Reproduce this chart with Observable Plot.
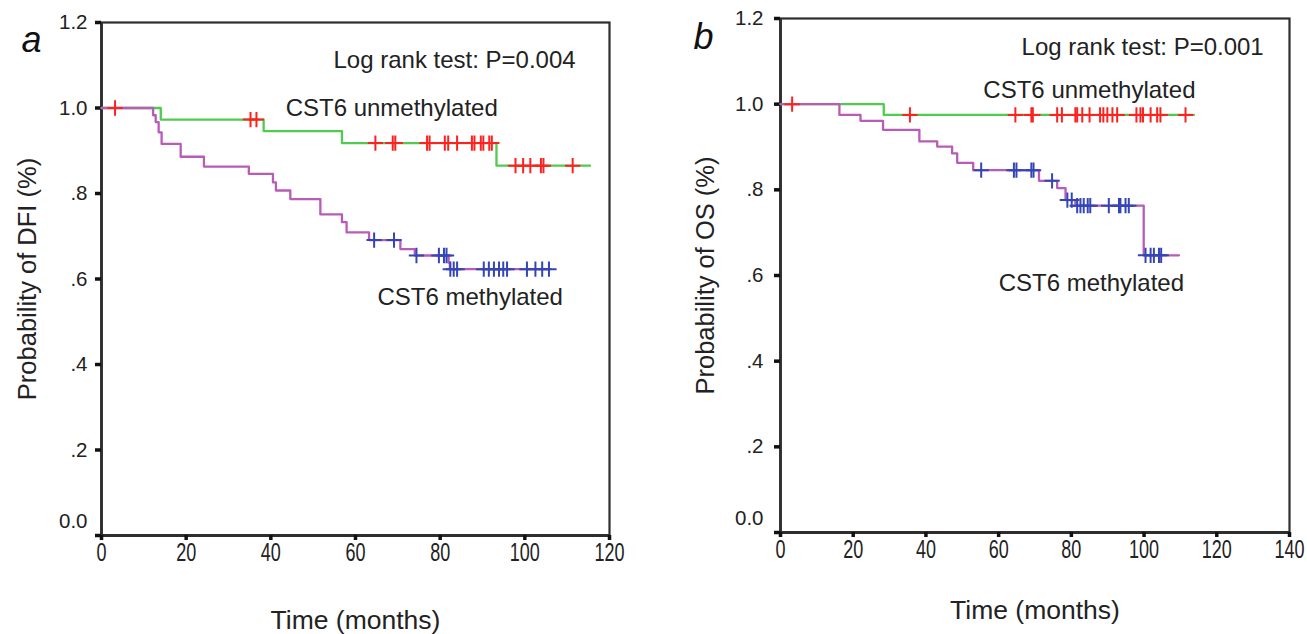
<!DOCTYPE html>
<html><head><meta charset="utf-8">
<script src="https://cdn.jsdelivr.net/npm/d3@7"></script>
<script src="https://cdn.jsdelivr.net/npm/@observablehq/plot@0.6"></script>
<style>
html,body{margin:0;padding:0;background:#fff;}
#wrap{position:relative;width:1307px;height:634px;overflow:hidden;background:#fff;}
#wrap svg{position:absolute;top:0;overflow:visible;}
</style></head><body><div id="wrap"></div>
<script>
// ---------- Panel a: DFI ----------
const aUnmethTime = [0, 14.0, 38.3, 56.8, 93.3, 115.4];
const aUnmethSurv = [1.0, 0.973, 0.946, 0.918, 0.865, 0.865];
const aUnmethCensor = [3.2, 35.2, 36.6, 64.7, 68.8, 69.4, 76.9, 77.5, 81.1, 81.9, 84.0, 87.5, 88.1, 89.6, 90.2, 91.6, 92.2, 97.8, 99.6, 101.3, 103.8, 104.4, 111.3];
const aMethTime = [0, 12.2, 12.8, 13.5, 14.2, 18.7, 24.2, 34.8, 40.5, 41.2, 44.6, 51.7, 56.8, 57.9, 63.2, 70.6, 74.0, 82.0, 82.3, 106.1];
const aMethSurv = [1.0, 0.983, 0.967, 0.943, 0.916, 0.886, 0.863, 0.846, 0.826, 0.807, 0.787, 0.751, 0.733, 0.709, 0.691, 0.670, 0.655, 0.638, 0.623, 0.623];
const aMethCensor = [64.4, 69.1, 74.4, 79.7, 80.9, 81.5, 82.4, 83.2, 84.0, 90.3, 91.5, 92.7, 93.9, 94.9, 95.8, 100.5, 102.5, 104.1, 105.7];

// ---------- Panel b: OS ----------
const bUnmethTime = [0, 28.4, 113.7];
const bUnmethSurv = [1.0, 0.975, 0.975];
const bUnmethCensor = [3.2, 35.6, 64.6, 69.0, 69.4, 76.1, 77.4, 81.1, 81.6, 83.0, 85.0, 87.9, 88.8, 89.9, 91.3, 92.6, 97.9, 99.0, 99.7, 101.8, 103.6, 104.5, 111.4];
const bMethTime = [0, 16.2, 22.0, 28.2, 38.2, 43.1, 47.2, 48.6, 53.0, 71.1, 76.1, 78.4, 81.1, 99.9, 109.6];
const bMethSurv = [1.0, 0.975, 0.961, 0.940, 0.913, 0.901, 0.885, 0.863, 0.846, 0.821, 0.804, 0.776, 0.763, 0.647, 0.647];
const bMethCensor = [55.2, 64.2, 64.9, 69.0, 69.6, 74.7, 78.9, 80.1, 81.6, 82.5, 83.4, 84.5, 85.2, 90.3, 93.1, 93.5, 94.9, 95.8, 100.4, 101.8, 102.7, 104.1, 104.7];

// ---------- Axes / labels ----------
const yTicks = [0, 0.2, 0.4, 0.6, 0.8, 1.0, 1.2];
const yTickLabels = ["0.0", ".2", ".4", ".6", ".8", "1.0", "1.2"];
const aXTicks = [0, 20, 40, 60, 80, 100, 120];
const bXTicks = [0, 20, 40, 60, 80, 100, 120, 140];
const xTitle = "Time (months)";
const aYTitle = "Probability of DFI (%)";
const bYTitle = "Probability of OS (%)";
const seriesNames = ["CST6 unmethylated", "CST6 methylated"];
const aLogRank = "Log rank test: P=0.004";
const bLogRank = "Log rank test: P=0.001";
// annotation anchors (data units: months, probability)
const aNotes = [{x: 54.8, y: 1.111, text: aLogRank}, {x: 43.5, y: 0.999, text: seriesNames[0]}, {x: 65.2, y: 0.556, text: seriesNames[1]}];
const bNotes = [{x: 66.3, y: 1.132, text: bLogRank}, {x: 55.8, y: 1.032, text: seriesNames[0]}, {x: 60.0, y: 0.581, text: seriesNames[1]}];

const FONT = "'Liberation Sans', Arial, Helvetica, sans-serif";
const GREEN = "#4fcb4f", PURPLE = "#b85cb8", RED = "#ff2020", BLUE = "#3446b6", AXIS = "#2e2e2e";

function rows(times, surv) { return times.map((t, i) => ({t, s: surv[i]})); }
function stepAt(times, surv, t) { let v = surv[0]; for (let i = 0; i < times.length; i++) if (times[i] <= t) v = surv[i]; return v; }
function censorRows(times, surv, cens) { return cens.map(t => ({t, s: stepAt(times, surv, t)})); }

function panel(cfg) {
  const p = Plot.plot({
    width: cfg.width, height: 634,
    marginLeft: cfg.ml, marginRight: cfg.mr, marginTop: cfg.mt, marginBottom: cfg.mb,
    x: {domain: cfg.xDomain},
    y: {domain: [0, 1.2]},
    style: {fontFamily: FONT, background: "transparent", overflow: "visible", color: "#222"},
    marks: [
      Plot.frame({stroke: AXIS, strokeWidth: 2.2}),
      Plot.ruleX([0], {stroke: AXIS, strokeWidth: 2.8}),
      Plot.ruleY([0], {stroke: AXIS, strokeWidth: 2.8}),
      Plot.axisY(yTicks, {tickSize: 6, strokeWidth: 3.5, stroke: "#111", tickPadding: cfg.yPad, fontSize: 20.5,
        tickFormat: d => d === 0 ? "" : yTickLabels[yTicks.indexOf(d)], label: null}),
      Plot.axisY([0], {tickSize: 0, tickPadding: cfg.yPad + 6, fontSize: 20.5, dy: -14,
        tickFormat: d => yTickLabels[yTicks.indexOf(d)], label: null}),
      Plot.axisX(cfg.xTicks, {tickSize: 5, strokeWidth: 3.5, stroke: "#111", tickPadding: 3, fontSize: 25, label: null}),
      Plot.line(rows(cfg.uT, cfg.uS), {x: "t", y: "s", curve: "step-after", stroke: GREEN, strokeWidth: 2.3}),
      Plot.line(rows(cfg.mT, cfg.mS), {x: "t", y: "s", curve: "step-after", stroke: PURPLE, strokeWidth: 2.3}),
      Plot.dot(censorRows(cfg.uT, cfg.uS, cfg.uC), {x: "t", y: "s", symbol: "plus", r: 5, stroke: RED, strokeWidth: 2}),
      Plot.dot(censorRows(cfg.mT, cfg.mS, cfg.mC), {x: "t", y: "s", symbol: "plus", r: 5, stroke: BLUE, strokeWidth: 2}),
      Plot.text(cfg.notes, {x: "x", y: "y", text: "text", textAnchor: "start", lineAnchor: "middle", fontSize: 24, fill: "#222"}),
      Plot.text([cfg.letter], {frameAnchor: "top-left", dx: cfg.letterDx, dy: cfg.letterDy, textAnchor: "middle", lineAnchor: "middle", fontSize: 36, fontStyle: "italic", fill: "#111"}),
      Plot.text([cfg.yTitle], {frameAnchor: "left", rotate: -90, dx: cfg.yTitleDx, textAnchor: "middle", lineAnchor: "middle", fontSize: 25.5, fill: "#222"}),
      Plot.text([xTitle], {frameAnchor: "bottom", dy: cfg.xTitleDy, textAnchor: "middle", lineAnchor: "middle", fontSize: 26.5, fill: "#222"})
    ]
  });
  p.style.left = cfg.left + "px";
  p.querySelectorAll('g[aria-label="x-axis tick label"] text').forEach(t => {
    t.setAttribute("transform", (t.getAttribute("transform") || "") + " scale(0.72,1)");
  });
  return p;
}

const wrap = document.getElementById("wrap");
wrap.appendChild(panel({
  left: 0, width: 640, ml: 101, mr: 31, mt: 22, mb: 99, xDomain: [0, 120], xTicks: aXTicks, yPad: 8,
  uT: aUnmethTime, uS: aUnmethSurv, uC: aUnmethCensor, mT: aMethTime, mS: aMethSurv, mC: aMethCensor,
  notes: aNotes, letter: "a", letterDx: -70, letterDy: 18, yTitle: aYTitle, yTitleDx: -74, xTitleDy: 85
}));
wrap.appendChild(panel({
  left: 660, width: 647, ml: 120, mr: 18, mt: 18, mb: 102, xDomain: [0, 140], xTicks: bXTicks, yPad: 11,
  uT: bUnmethTime, uS: bUnmethSurv, uC: bUnmethCensor, mT: bMethTime, mS: bMethSurv, mC: bMethCensor,
  notes: bNotes, letter: "b", letterDx: -77, letterDy: 19, yTitle: bYTitle, yTitleDx: -75, xTitleDy: 78
}));
</script></body></html>
